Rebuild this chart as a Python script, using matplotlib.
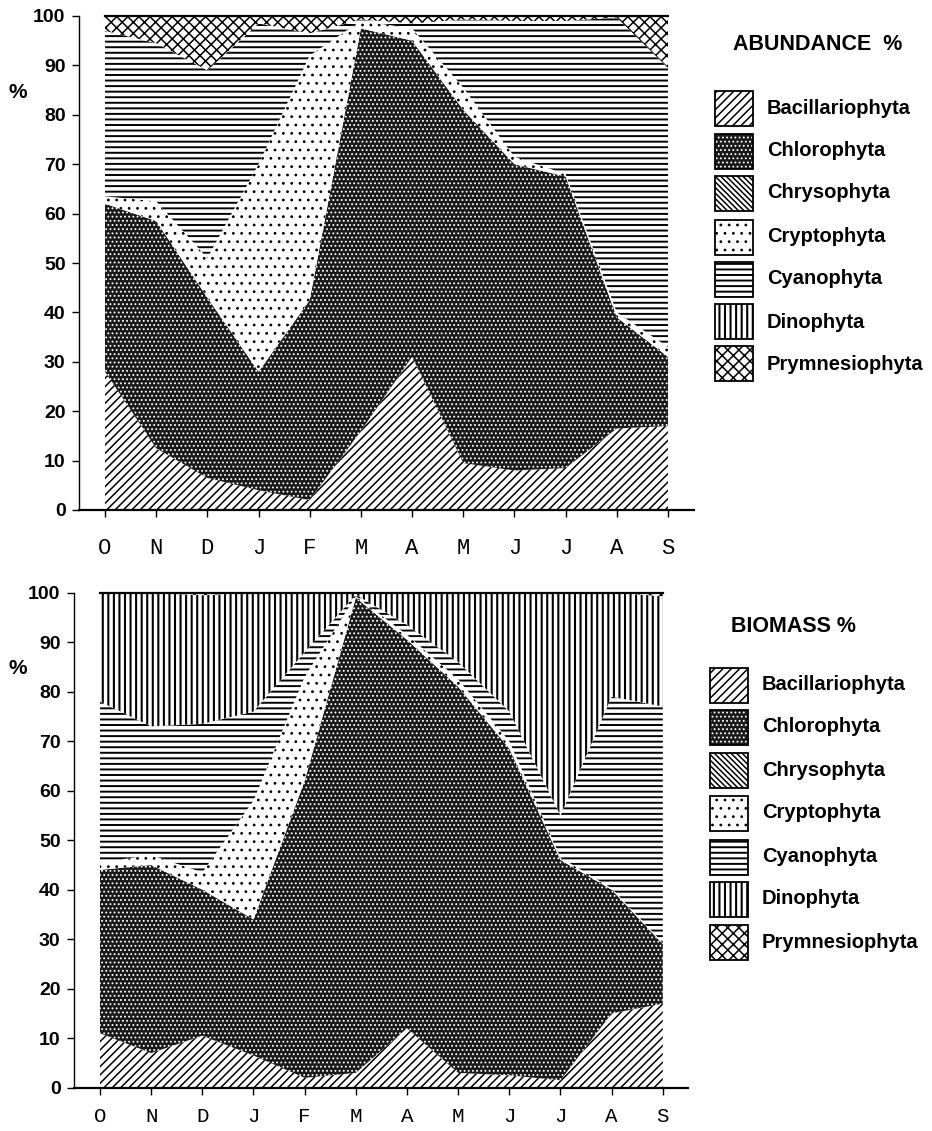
import numpy as np
import matplotlib
matplotlib.use('Agg')
import matplotlib.pyplot as plt
from matplotlib.patches import Rectangle

months = ['O', 'N', 'D', 'J', 'F', 'M', 'A', 'M', 'J', 'J', 'A', 'S']
groups = ['Bacillariophyta', 'Chlorophyta', 'Chrysophyta', 'Cryptophyta',
          'Cyanophyta', 'Dinophyta', 'Prymnesiophyta']

# abundance %
ab_bacillario = [28, 12.5, 6.5, 4, 2, 16, 31, 9.5, 8, 8.5, 16.5, 17]
ab_chloro = [34, 46, 36.5, 24, 40.5, 81.5, 64, 71.5, 62, 59, 22.5, 14]
ab_chryso = [0, 0, 0, 0, 0, 0, 0, 0, 0, 0, 0, 0]
ab_crypto = [1.5, 4, 8, 42, 49.5, 1.5, 2.5, 4.5, 1.5, 0.5, 1, 2]
ab_cyano = [33.5, 32, 38, 28.5, 4.5, 0.3, 1, 13.8, 27.5, 31, 59.7, 56.5]
ab_dino = [0, 0, 0, 0, 0, 0, 0, 0, 0, 0, 0, 0]
ab_prymnesio = [3, 5.5, 11, 1.5, 3.5, 0.7, 1.5, 0.7, 1, 1, 0.3, 10.5]

# biomass % (lower panel)
bm_bacillario = [11, 7, 10.5, 6.5, 2, 3, 12, 3, 2.5, 1.5, 15, 17]
bm_chloro = [33, 38, 29.5, 27.5, 60, 96, 78.5, 78, 66, 44.5, 25, 12]
bm_chryso = [0, 0, 0, 0, 0, 0, 0, 0, 0, 0, 0, 0]
bm_crypto = [1.5, 2, 3.5, 24, 21, 0.3, 1, 1.5, 1.5, 0.5, 0.3, 0.3]
bm_cyano = [32.5, 26, 30, 18, 5, 0.3, 2, 3.5, 6, 8.5, 38.7, 47.7]
bm_dino = [22, 27, 26, 24, 12, 0.4, 6.5, 14, 24, 45, 21, 22.3]
bm_prymnesio = [0, 0, 0.5, 0, 0, 0, 0, 0, 0, 0, 0, 0.7]

abundance = [ab_bacillario, ab_chloro, ab_chryso, ab_crypto, ab_cyano, ab_dino, ab_prymnesio]
biomass = [bm_bacillario, bm_chloro, bm_chryso, bm_crypto, bm_cyano, bm_dino, bm_prymnesio]

# face colour, hatch colour, hatch, hatch linewidth
styles = {
    'Bacillariophyta': ('white', 'black', '////', 1.1),
    'Chlorophyta': ('#1a1a1a', 'white', '....', 0.8),
    'Chrysophyta': ('white', 'black', '\\' * 6, 1.1),
    'Cryptophyta': ('white', 'black', '..', 0.8),
    'Cyanophyta': ('white', 'black', '---', 1.4),
    'Dinophyta': ('white', 'black', '|||', 1.5),
    'Prymnesiophyta': ('white', 'black', 'xxx', 1.1),
}

plt.rcParams['hatch.linewidth'] = 1.2
SANS = 'Liberation Sans'
MONO = 'Liberation Mono'

W, H = 932, 1131
fig = plt.figure(figsize=(W / 100, H / 100), dpi=100)


def set_hlw(artist, lw):
    if hasattr(artist, 'set_hatch_linewidth'):
        artist.set_hatch_linewidth(lw)


def draw_panel(ax, series, label_pad, label_size):
    x = np.arange(len(months))
    base = np.zeros(len(months))
    for name, vals in zip(groups, series):
        top = base + np.asarray(vals, dtype=float)
        fc, hc, h, hlw = styles[name]
        coll = ax.fill_between(x, base, top, facecolor=fc, edgecolor=hc, hatch=h, linewidth=0)
        set_hlw(coll, hlw)
        base = top
    ax.plot(x, base, color='black', lw=1.6, clip_on=False)

    ax.set_xlim(-0.5, 11.5)
    ax.set_ylim(0, 100)
    ax.spines['top'].set_visible(False)
    ax.spines['right'].set_visible(False)
    ax.spines['left'].set_linewidth(1.0)
    ax.spines['bottom'].set_linewidth(1.6)
    ax.set_xticks(x)
    ax.set_xticklabels(months, fontfamily=MONO, fontsize=label_size)
    ax.set_yticks(np.arange(0, 101, 10))
    ax.set_yticklabels([str(v) for v in range(0, 101, 10)], fontfamily=SANS,
                       fontweight='bold', fontsize=14)
    ax.tick_params(axis='x', length=5, width=1, pad=label_pad)
    ax.tick_params(axis='y', length=5, width=1, pad=5)


def draw_legend(title, tx, ty, bx, lx, centers):
    fig.text(tx / W, 1 - ty / H, title, fontfamily=SANS, fontweight='bold',
             fontsize=15.5, va='center', ha='left')
    for name, cy in zip(groups, centers):
        fc, hc, h, hlw = styles[name]
        xy = (bx / W, 1 - (cy + 17.5) / H)
        box = Rectangle(xy, 38 / W, 35 / H, transform=fig.transFigure,
                        facecolor=fc, edgecolor=hc, hatch=h, linewidth=0)
        set_hlw(box, hlw)
        fig.add_artist(box)
        fig.add_artist(Rectangle(xy, 38 / W, 35 / H, transform=fig.transFigure,
                                 fill=False, edgecolor='black', linewidth=1.3))
        fig.text(lx / W, 1 - cy / H, name, fontfamily=SANS, fontweight='bold',
                 fontsize=14.5, va='center', ha='left')


ax1 = fig.add_axes([79.4 / W, (H - 510) / H, 614.2 / W, 494 / H])
draw_panel(ax1, abundance, 15, 16)
ax2 = fig.add_axes([74.4 / W, (H - 1087.7) / H, 614 / W, 495 / H])
draw_panel(ax2, biomass, 9, 15)

fig.text(18 / W, 1 - 92 / H, '%', fontfamily=SANS, fontweight='bold', fontsize=15,
         ha='center', va='center')
fig.text(18 / W, 1 - 668 / H, '%', fontfamily=SANS, fontweight='bold', fontsize=15,
         ha='center', va='center')

draw_legend('ABUNDANCE  %', 733, 45, 715, 767, [108, 151, 193, 237, 279, 322, 364])
draw_legend('BIOMASS %', 731, 627, 710, 762, [685, 727, 770, 813, 857, 899, 942])

fig.savefig('out.png', dpi=100)
